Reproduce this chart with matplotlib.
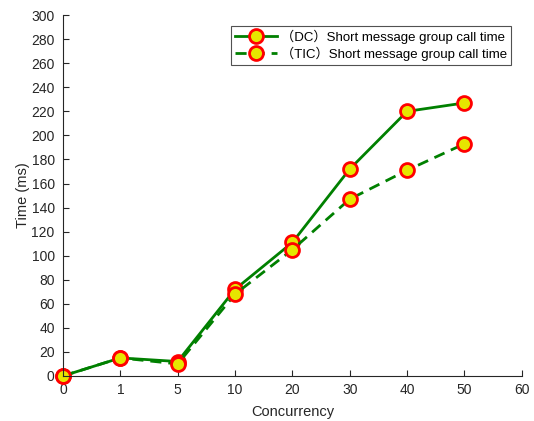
import matplotlib
matplotlib.use("Agg")
import matplotlib.pyplot as plt

plt.rcParams['font.family'] = ['Liberation Sans', 'Noto Sans CJK SC', 'DejaVu Sans']

# Concurrency levels (plotted at evenly spaced positions)
concurrency_labels = ['0', '1', '5', '10', '20', '30', '40', '50', '60']
concurrency = [0, 1, 5, 10, 20, 30, 40, 50]

# Group call times in ms
dc_time = [0, 15, 12, 72, 111, 172, 220, 227]
tic_time = [0, 15, 10, 68, 105, 147, 171, 193]

positions = list(range(len(concurrency)))

fig = plt.figure(figsize=(5.34, 4.21), dpi=100)
ax = fig.add_axes([0.118, 0.107, 0.859, 0.857])

green = (0.0, 0.5, 0.0)
marker_style = dict(marker='o', markersize=10, markerfacecolor=(0.9, 0.9, 0.0),
                    markeredgecolor='red', markeredgewidth=2)

ax.plot(positions, dc_time, color=green, linewidth=2, linestyle='-',
        label='（DC）Short message group call time', **marker_style)
ax.plot(positions, tic_time, color=green, linewidth=2, linestyle=(0, (4, 2.5)),
        label='（TIC）Short message group call time', **marker_style)

ax.set_xlim(0, len(concurrency_labels) - 1)
ax.set_ylim(0, 300)
ax.set_xticks(range(len(concurrency_labels)))
ax.set_xticklabels(concurrency_labels)
ax.set_yticks(range(0, 301, 20))

for side in ('top', 'right'):
    ax.spines[side].set_visible(False)
for side in ('left', 'bottom'):
    ax.spines[side].set_color('#262626')
    ax.spines[side].set_linewidth(0.8)

ax.tick_params(direction='in', length=4, width=0.8, labelsize=10,
               colors='#262626')
ax.tick_params(axis='y', pad=6)
ax.tick_params(axis='x', pad=5)

ax.set_xlabel('Concurrency', fontsize=10.5, color='#262626', labelpad=6)
ax.set_ylabel('Time (ms)', fontsize=10.5, color='#262626', labelpad=1)

leg = ax.legend(loc='upper right', fontsize=9.5, frameon=True, fancybox=False,
                edgecolor='#262626', handlelength=3.2, borderpad=0.3,
                labelspacing=0.2, handletextpad=0.3, borderaxespad=0.8)
leg.get_frame().set_linewidth(0.8)
for line in ax.get_lines():
    line.set_clip_on(False)

fig.savefig('out.png', dpi=100)
